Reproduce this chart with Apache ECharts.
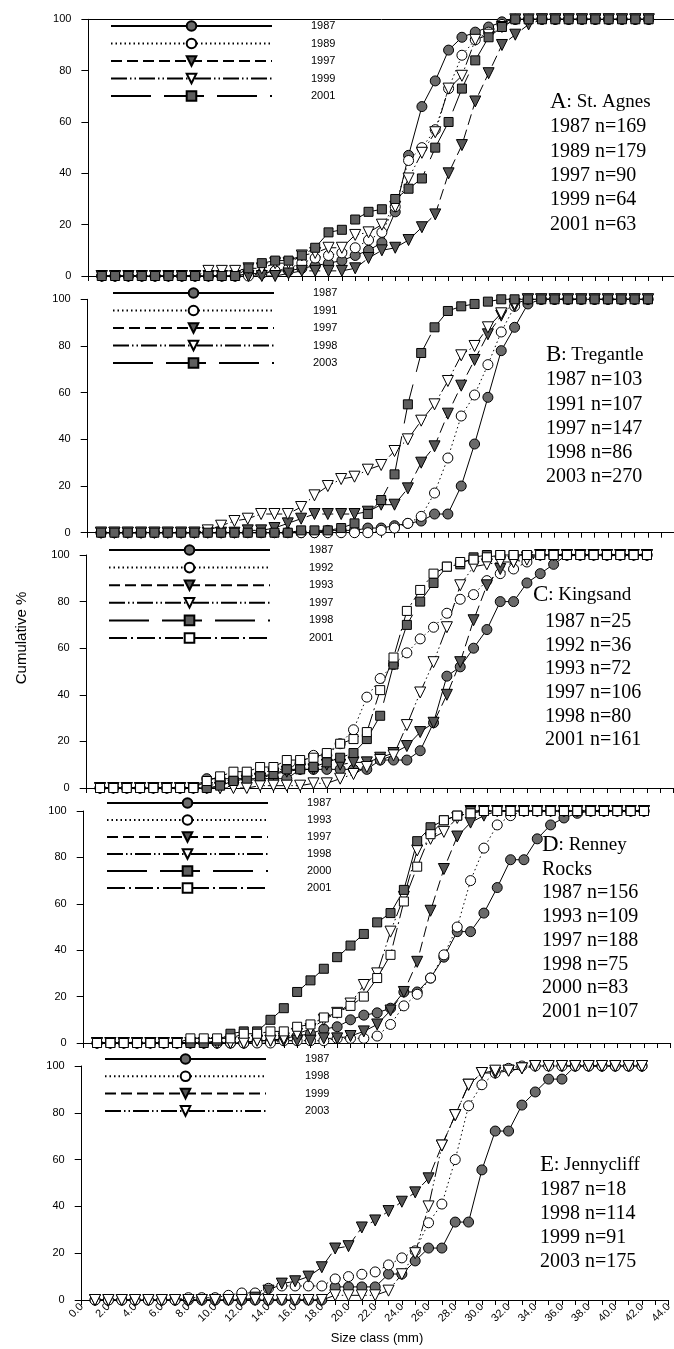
<!DOCTYPE html>
<html><head><meta charset="utf-8">
<script src="https://cdn.jsdelivr.net/npm/echarts@6.0.0/dist/echarts.min.js"></script>
<style>html,body{margin:0;padding:0;background:#fff}#c{width:674px;height:1349px}</style>
</head><body><div id="c"></div><script>
// ---- data: size class (mm) and cumulative % per year ----
const sizes = [1,2,3,4,5,6,7,8,9,10,11,12,13,14,15,16,17,18,19,20,21,22,23,24,25,26,27,28,29,30,31,32,33,34,35,36,37,38,39,40,41,42];

const A1987 = [0,0,0,0,0,0,0,0,0,0,0,1,1,2,2,3,4,5,6,8,10,13,25,47,66,76,88,93,95,97,99,100,100,100,100,100,100,100,100,100,100,100];
const A1989 = [0,0,0,0,0,0,0,0,0,0,0,0,1,2,3,5,7,8,9,11,14,17,27,45,50,57,73,86,92,95,98,100,100,100,100,100,100,100,100,100,100,100];
const A1997 = [0,0,0,0,0,0,0,0,0,0,0,0,0,0,1,2,2,2,2,3,7,10,11,14,19,24,40,51,68,79,90,94,98,100,100,100,100,100,100,100,100,100];
const A1999 = [0,0,0,0,0,0,0,0,2,2,2,3,3,5,5,8,9,11,11,16,17,20,27,38,48,56,73,78,92,94,97,100,100,100,100,100,100,100,100,100,100,100];
const A2001 = [0,0,0,0,0,0,0,0,0,0,0,3,5,6,6,8,11,17,18,22,25,26,30,34,38,50,60,73,84,93,97,100,100,100,100,100,100,100,100,100,100,100];

const B1987 = [0,0,0,0,0,0,0,0,0,0,0,0,0,0,0,0,0,1,1,1,2,2,3,4,5,8,8,20,38,58,78,88,98,100,100,100,100,100,100,100,100,100];
const B1991 = [0,0,0,0,0,0,0,0,0,0,0,0,0,0,0,0,0,0,0,0,0,1,2,4,7,17,32,50,59,72,86,97,100,100,100,100,100,100,100,100,100,100];
const B1997 = [0,0,0,0,0,0,0,0,0,0,0,1,1,2,4,6,8,8,8,8,9,12,12,19,30,37,51,63,74,85,93,97,100,100,100,100,100,100,100,100,100,100];
const B1998 = [0,0,0,0,0,0,0,0,1,3,5,6,8,8,8,11,16,20,23,24,27,29,35,40,48,55,65,76,80,88,94,98,100,100,100,100,100,100,100,100,100,100];
const B2003 = [0,0,0,0,0,0,0,0,0,0,0,0,0,0,0,1,1,1,2,4,8,14,25,55,77,88,95,97,98,99,100,100,100,100,100,100,100,100,100,100,100,100];

const C1987 = [0,0,0,0,0,0,0,0,4,4,4,4,4,4,4,8,8,8,8,8,8,12,12,12,16,28,48,52,60,68,80,80,88,92,96,100,100,100,100,100,100,100];
const C1992 = [0,0,0,0,0,0,0,0,0,3,3,6,6,8,8,11,14,14,19,25,39,47,53,58,64,69,75,81,83,89,92,94,97,100,100,100,100,100,100,100,100,100];
const C1993 = [0,0,0,0,0,0,0,0,0,0,1,3,4,6,7,8,8,10,10,11,11,13,15,18,24,28,40,54,72,87,94,97,99,100,100,100,100,100,100,100,100,100];
const C1997 = [0,0,0,0,0,0,0,0,0,0,0,0,1,1,1,1,2,2,4,6,9,12,14,27,41,54,69,87,95,96,97,97,98,100,100,100,100,100,100,100,100,100];
const C1998 = [0,0,0,0,0,0,0,0,0,1,3,4,5,6,8,8,9,11,13,15,21,31,53,70,80,88,95,96,99,100,100,100,100,100,100,100,100,100,100,100,100,100];
const C2001 = [0,0,0,0,0,0,0,0,3,5,7,7,9,9,12,12,13,15,19,21,24,42,56,76,85,92,95,97,98,99,100,100,100,100,100,100,100,100,100,100,100,100];

const D1987 = [0,0,0,0,0,0,0,0,0,0,0,0,1,1,2,3,4,6,7,10,12,13,15,22,22,28,37,48,48,56,67,79,79,88,94,97,99,100,100,100,100,100];
const D1993 = [0,0,0,0,0,0,0,0,0,0,0,0,0,0,1,1,1,1,2,2,2,3,8,16,21,28,38,50,70,84,94,98,100,100,100,100,100,100,100,100,100,100];
const D1997 = [0,0,0,0,0,0,0,0,0,0,0,0,1,1,1,1,1,2,2,3,5,8,14,22,35,57,75,89,95,98,100,100,100,100,100,100,100,100,100,100,100,100];
const D1998 = [0,0,0,0,0,0,0,0,0,0,0,0,1,1,2,4,6,10,13,17,25,30,48,63,83,88,91,97,100,100,100,100,100,100,100,100,100,100,100,100,100,100];
const D2000 = [0,0,0,0,0,0,0,0,0,1,4,5,5,10,15,22,27,32,37,42,47,52,56,66,87,93,96,98,100,100,100,100,100,100,100,100,100,100,100,100,100,100];
const D2001 = [0,0,0,0,0,0,0,2,2,2,2,4,4,5,5,7,8,11,13,16,20,28,38,61,76,90,96,98,99,100,100,100,100,100,100,100,100,100,100,100,100,100];

const E1987 = [0,0,0,0,0,0,0,0,0,0,0,0,0,0,0,0,0,0,5.6,5.6,5.6,5.6,11.1,11.1,16.7,22.2,22.2,33.3,33.3,55.6,72.2,72.2,83.3,88.9,94.4,94.4,100,100,100,100,100,100];
const E1998 = [0,0,0,0,0,0,0,1,1,1,2,3,3,5,6,6,6,6,9,10,11,12,15,18,21,33,41,60,83,92,97,99,100,100,100,100,100,100,100,100,100,100];
const E1999 = [0,0,0,0,0,0,0,0,0,0,0,0,1,4,7,8,10,14,22,23,31,34,38,42,46,52,66,79,92,97,97,98,99,100,100,100,100,100,100,100,100,100];
const E2003 = [0,0,0,0,0,0,0,0,0,0,0,0,0,0,0,0,0,0,2,2,2,2,4,11,20,40,66,79,92,97,98,98,99,100,100,100,100,100,100,100,100,100];

const panelNotes = {
  A: ['A', ': St. Agnes', '', ['1987 n=169','1989 n=179','1997 n=90','1999 n=64','2001 n=63']],
  B: ['B', ': Tregantle', '', ['1987 n=103','1991 n=107','1997 n=147','1998 n=86','2003 n=270']],
  C: ['C', ': Kingsand', '', ['1987 n=25','1992 n=36','1993 n=72','1997 n=106','1998 n=80','2001 n=161']],
  D: ['D', ': Renney', 'Rocks', ['1987 n=156','1993 n=109','1997 n=188','1998 n=75','2000 n=83','2001 n=107']],
  E: ['E', ': Jennycliff', '', ['1987 n=18','1998 n=114','1999 n=91','2003 n=175']]
};

// ---- styles ----
const STY = {
  fc: {symbol:'circle',   size:10, rot:0,   fill:'#6a6a6a', dash:'solid'},
  oc: {symbol:'circle',   size:10, rot:0,   fill:'#ffffff', dash:[1.5,3]},
  ft: {symbol:'triangle', size:11, rot:180, fill:'#555555', dash:[11,5]},
  ot: {symbol:'triangle', size:11, rot:180, fill:'#ffffff', dash:[16,3,1.5,3,1.5,3]},
  fs: {symbol:'rect',     size:9,  rot:0,   fill:'#5e5e5e', dash:[40,13]},
  os: {symbol:'rect',     size:9,  rot:0,   fill:'#ffffff', dash:[18,4,2,4]}
};

const panels = [
  {id:'A', left:88.4, top:19.3, height:256.7, lgLeft:110, lgTop:20, lgGap:5.5, textX:550, textY:102, lineY0:127, lineStep:24.4,
   series:[['1987',A1987,'fc'],['1989',A1989,'oc'],['1997',A1997,'ft'],['1999',A1999,'ot'],['2001',A2001,'fs']]},
  {id:'B', left:87.7, top:299.3, height:233.4, lgLeft:112, lgTop:287, lgGap:5.5, textX:546, textY:355, lineY0:380, lineStep:24.3},
  {id:'C', left:86.7, top:555, height:233, lgLeft:108, lgTop:544, lgGap:5.6, textX:533, textY:595, lineY0:622, lineStep:23.6, lineX:545},
  {id:'D', left:83.7, top:811, height:232, lgLeft:106, lgTop:797, lgGap:5, textX:542, textY:845, lineY0:893, lineStep:23.8},
  {id:'E', left:81.7, top:1066, height:234, lgLeft:104, lgTop:1053, lgGap:5.3, textX:540, textY:1165, lineY0:1190, lineStep:24}
];
panels[1].series = [['1987',B1987,'fc'],['1991',B1991,'oc'],['1997',B1997,'ft'],['1998',B1998,'ot'],['2003',B2003,'fs']];
panels[2].series = [['1987',C1987,'fc'],['1992',C1992,'oc'],['1993',C1993,'ft'],['1997',C1997,'ot'],['1998',C1998,'fs'],['2001',C2001,'os']];
panels[3].series = [['1987',D1987,'fc'],['1993',D1993,'oc'],['1997',D1997,'ft'],['1998',D1998,'ot'],['2000',D2000,'fs'],['2001',D2001,'os']];
panels[4].series = [['1987',E1987,'fc'],['1998',E1998,'oc'],['1999',E1999,'ft'],['2003',E2003,'ot']];

const PX_PER_MM = 13.34;
const grid = [], xAxis = [], yAxis = [], series = [], legend = [], graphic = [];
const sansFont = 'Liberation Sans, Arial, sans-serif';
const serif = 'Liberation Serif, Times New Roman, serif';

panels.forEach((p, gi) => {
  const last = gi === panels.length - 1;
  grid.push({left:p.left, top:p.top, width:44*PX_PER_MM, height:p.height, containLabel:false, outerBoundsMode:'none'});
  xAxis.push({type:'value', gridIndex:gi, min:0, max:44, interval:1,
    axisLine:{show:true, onZero:false, lineStyle:{color:'#000', width:1}},
    axisTick:{show:true, length:5, lineStyle:{color:'#000'}},
    splitLine:{show:false},
    axisLabel:{show:last, rotate:45, margin:5, color:'#000', fontSize:11, fontFamily:sansFont,
      formatter: v => (v % 2 === 0 ? v.toFixed(1) : '')}
  });
  yAxis.push({type:'value', gridIndex:gi, min:0, max:100, interval:20,
    axisLine:{show:true, lineStyle:{color:'#000', width:1}},
    axisTick:{show:true, length:7, lineStyle:{color:'#000'}},
    splitLine:{show:false},
    axisLabel:{color:'#000', fontSize:11, fontFamily:sansFont, margin:17}
  });
  const names = [];
  p.series.forEach(([yr, data, sk]) => {
    const s = STY[sk];
    const name = p.id + '-' + yr;
    names.push(name);
    series.push({type:'line', name, xAxisIndex:gi, yAxisIndex:gi,
      data: sizes.map((x, i) => [x, data[i]]),
      symbol:s.symbol, symbolSize:s.size, symbolRotate:s.rot, showAllSymbol:true,
      lineStyle:{color:'#000', width:1, type:s.dash},
      itemStyle:{color:s.fill, borderColor:'#000', borderWidth:1},
      emphasis:{disabled:true}, animation:false, clip:false});
  });
  legend.push({data:names, orient:'vertical', left:p.lgLeft, top:p.lgTop, padding:0, itemWidth:161, itemHeight:12, itemGap:p.lgGap,
    selectedMode:false, formatter: n => n.split('-')[1],
    textStyle:{color:'#000', fontSize:11, fontFamily:sansFont, padding:[0,0,0,34], lineHeight:12}});

  const note = panelNotes[p.id];
  graphic.push({type:'text', x:p.textX, y:p.textY, silent:true,
    style:{text:'{b|' + note[0] + '}{n|' + note[1] + '}', verticalAlign:'middle', fill:'#000',
      rich:{b:{fontSize:23, fontFamily:serif, fill:'#000'}, n:{fontSize:19, fontFamily:serif, fill:'#000'}}}});
  const lx = p.lineX || p.textX;
  if (note[2]) {
    graphic.push({type:'text', x:lx, y:p.textY + 25, silent:true,
      style:{text:note[2], font:'20px ' + serif, fill:'#000', verticalAlign:'middle'}});
  }
  note[3].forEach((t, i) => {
    graphic.push({type:'text', x:lx, y:p.lineY0 + i * p.lineStep, silent:true,
      style:{text:t, font:'20px ' + serif, fill:'#000', verticalAlign:'middle'}});
  });
});

// top frame line of panel A
xAxis.push({type:'value', gridIndex:0, position:'top', min:0, max:44,
  axisLine:{show:true, onZero:false, lineStyle:{color:'#000', width:1}}, axisTick:{show:false}, axisLabel:{show:false}, splitLine:{show:false}});

graphic.push({type:'text', x:22, y:638, rotation:Math.PI/2, silent:true,
  style:{text:'Cumulative %', font:'15px ' + sansFont, fill:'#000', align:'center', verticalAlign:'middle'}});
graphic.push({type:'text', x:377, y:1338, silent:true,
  style:{text:'Size class (mm)', font:'13px ' + sansFont, fill:'#000', align:'center', verticalAlign:'middle'}});

const chart = echarts.init(document.getElementById('c'), null, {renderer:'canvas'});
chart.setOption({animation:false, backgroundColor:'#fff', grid, xAxis, yAxis, series, legend, graphic});
</script></body></html>
